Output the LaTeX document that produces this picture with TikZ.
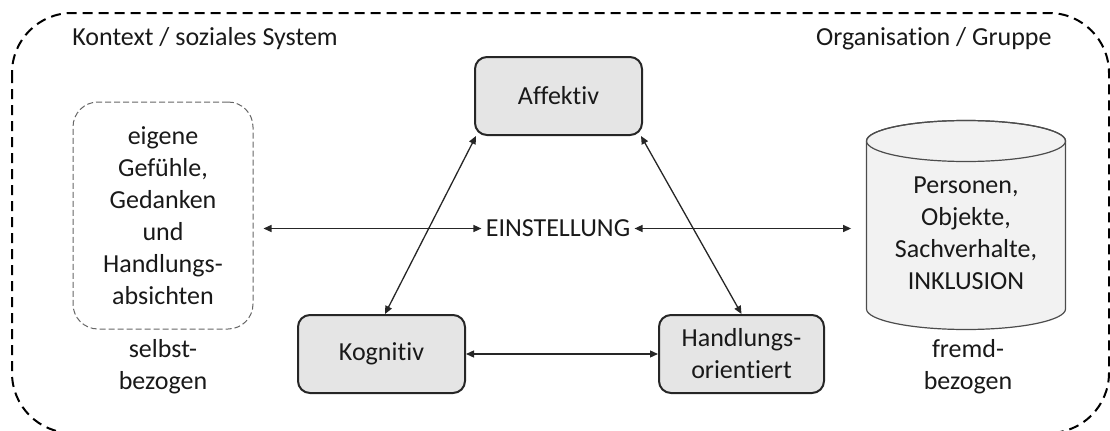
\documentclass[tikz,border=0pt]{standalone}
\usepackage{fontspec}
\setmainfont{Carlito}[Ligatures=NoCommon]
\usetikzlibrary{arrows.meta,positioning}

\begin{document}
\begin{tikzpicture}[x=0.5pt,y=0.5pt,
                    every node/.style={font=\fontsize{13}{16}\selectfont,text=black!90,align=center},
                    box/.style={draw=black!85,line width=1pt,fill=black!10,rounded corners=6pt,
                                minimum width=83.5pt,minimum height=39pt},
                    conn/.style={<->,>={Triangle[length=4pt,width=3.5pt]},line width=0.65pt,draw=black!85},
                    lbl/.style={inner sep=0pt}]

\useasboundingbox (0,0) rectangle (1110,430);
\clip (0,0) rectangle (1110,430);

% outer frame
\draw[dash pattern=on 5pt off 3pt,line width=1pt,rounded corners=30pt] (12,417) rectangle (1109,-3);
\node[lbl,anchor=base west] (ctx) at (72,385) {Kontext / soziales System};
\node[lbl,anchor=base east] (org) at (1052,385) {Organisation / Gruppe};

% triangle
\node[box] (aff) at (558.5,334) {Affektiv};
\node[box] (kog) at (381.5,76) {Kognitiv};
\node[box,minimum width=82.5pt,right=96pt of kog] (hand) {Handlungs-\\orientiert};
\node[inner sep=2pt] (ein) at (558,201.5) {EINSTELLUNG};

% left side
\node[draw=black!60,dash pattern=on 3pt off 1.5pt,line width=0.5pt,rounded corners=12.5pt,
      minimum width=90pt,minimum height=113.5pt] (self) at (163,214.5)
      {eigene\\Gefühle,\\Gedanken\\und\\Handlungs-\\absichten};
\node[lbl,below=5pt of self] (selfl) {selbst-\\bezogen};

% right side
\path[fill=black!5,draw=black!70,line width=0.6pt] (866.5,289) -- (866.5,121)
  arc[start angle=180,end angle=360,x radius=49.75pt,y radius=10.25pt] -- (1065.5,289)
  arc[start angle=0,end angle=180,x radius=49.75pt,y radius=10.25pt] -- cycle;
\draw[draw=black!70,line width=0.6pt] (966,289) ellipse[x radius=49.75pt,y radius=10.25pt];
\node[lbl,minimum width=99.5pt] (obj) at (966,197) {Personen,\\Objekte,\\Sachverhalte,\\INKLUSION};
\node[lbl,anchor=north] (fremdl) at (968,91) {fremd-\\bezogen};

% connectors
\draw[conn] ([xshift=1pt]aff.south west) -- ([xshift=1.75pt]kog.north);
\draw[conn] ([xshift=-1pt]aff.south east) -- (hand.north);
\draw[conn] (kog) -- (hand);
\draw[conn,shorten <=5pt] (ein.west -| self.east) -- (ein.west);
\draw[conn,shorten >=7.5pt] (ein.east) -- (ein.east -| obj.west);

\end{tikzpicture}
\end{document}
